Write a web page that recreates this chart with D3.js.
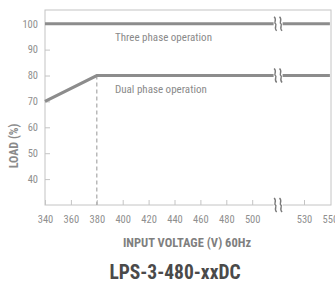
<!DOCTYPE html>
<html><head><meta charset="utf-8">
<script src="https://cdn.jsdelivr.net/npm/d3@7"></script>
<style>
html,body{margin:0;padding:0;background:#fff;}
svg{display:block;}
</style>
</head><body>
<svg id="c" width="335" height="282"></svg>
<script>
// Data
const xTickLabels = ["340","360","380","400","420","440","460","480","500","","530","550"];
const xTickValues = [340,360,380,400,420,440,460,480,500,520,530,550];
const yTicks = [40,50,60,70,80,90,100];
const threePhaseX = [340, 550];
const threePhaseY = [100, 100];
const dualPhaseX = [340, 380, 550];
const dualPhaseY = [70, 80, 80];
const breakAtX = 520;
const title = "LPS-3-480-xxDC";
const xTitle = "INPUT VOLTAGE (V) 60Hz";
const yTitle = "LOAD (%)";

const svg = d3.select("#c");
const L = 45, R = 331, T = 10, B = 205;
const font = "'Liberation Sans Narrow','Roboto Condensed','Liberation Sans',sans-serif";

// piecewise x scale: 340..520 linear, then 530 and 550 as slots
const step = 25.9;
const x = d3.scaleLinear()
  .domain([340, 500, 520, 530, 550])
  .range([L, L + 8*step, L + 9*step, L + 10*step, L + 11*step]);
const y = d3.scaleLinear().domain([30, 105.3]).range([B, T]);

// frame
svg.append("rect").attr("x", L).attr("y", T).attr("width", R-L).attr("height", B-T)
  .attr("fill", "none").attr("stroke", "#c4c4c4").attr("stroke-width", 1);

// y axis ticks (inward)
const yAxis = d3.axisLeft(y).tickValues(yTicks).tickSize(-5).tickPadding(7);
const ga = svg.append("g").attr("transform", `translate(${L},0)`).call(yAxis);
ga.select(".domain").remove();
ga.selectAll("line").attr("stroke", "#c4c4c4");
ga.selectAll("text").attr("fill", "#8f8f8f").style("font-family", font).style("font-size", "10.5px");

// x axis ticks (inward, upward)
const xAxis = d3.axisBottom(x).tickValues(xTickValues)
  .tickFormat((d,i) => xTickLabels[i]).tickSize(-5).tickPadding(11);
const gx = svg.append("g").attr("transform", `translate(0,${B})`).call(xAxis);
gx.select(".domain").remove();
gx.selectAll("line").attr("stroke", "#c4c4c4");
gx.selectAll(".tick").filter(d => d === breakAtX || d === 550).select("line").remove();
gx.selectAll("text").attr("fill", "#8f8f8f").style("font-family", font).style("font-size", "10.5px");

// dashed vertical at 380
svg.append("line").attr("x1", x(380)).attr("x2", x(380)).attr("y1", y(80)).attr("y2", B)
  .attr("stroke", "#a8a8a8").attr("stroke-width", 1.2).attr("stroke-dasharray", "4,3");

const line = d3.line().x(d => x(d[0])).y(d => y(d[1]));
svg.append("path").datum(threePhaseX.map((v,i)=>[v, threePhaseY[i]]))
  .attr("d", line).attr("fill","none").attr("stroke","#8c8c8c").attr("stroke-width",3.2);
svg.append("path").datum(dualPhaseX.map((v,i)=>[v, dualPhaseY[i]]))
  .attr("d", line).attr("fill","none").attr("stroke","#8c8c8c").attr("stroke-width",3.2);

// break symbols
function brk(cx, cy) {
  const g = svg.append("g").attr("transform", `translate(${cx},${cy})`);
  g.append("rect").attr("x", -4.5).attr("y", -8).attr("width", 9).attr("height", 16).attr("fill", "#fff");
  [-2.7, 2.7].forEach(dx => {
    g.append("path")
      .attr("d", `M${dx-1.3},-7 C${dx+2},-4 ${dx-2},-1 ${dx},0 C${dx+2},1 ${dx-2},4 ${dx+1.3},7`)
      .attr("fill","none").attr("stroke","#7a7a7a").attr("stroke-width",1.4);
  });
}
brk(x(breakAtX), y(100));
brk(x(breakAtX), y(80));
brk(x(breakAtX), B);

// annotations
svg.append("text").attr("x", 115).attr("y", 41).text("Three phase operation")
  .attr("fill", "#8a8a8a").style("font-family", font).style("font-size", "11px");
svg.append("text").attr("x", 115).attr("y", 93).text("Dual phase operation")
  .attr("fill", "#8a8a8a").style("font-family", font).style("font-size", "11px");

// axis titles
svg.append("text").attr("transform", `translate(18,146) rotate(-90)`).attr("text-anchor","middle")
  .text(yTitle).attr("fill", "#8a8a8a").style("font-family", font).style("font-size", "12px").style("font-weight","bold");
svg.append("text").attr("x", 187).attr("y", 247).attr("text-anchor","middle")
  .text(xTitle).attr("fill", "#7f7f7f").style("font-family", font).style("font-size", "12.5px").style("font-weight","bold");
svg.append("text").attr("x", 175).attr("y", 279).attr("text-anchor","middle")
  .text(title).attr("fill", "#4a4a4a").style("font-family", font).style("font-size", "19.5px").style("font-weight","bold");
</script>
</body></html>
